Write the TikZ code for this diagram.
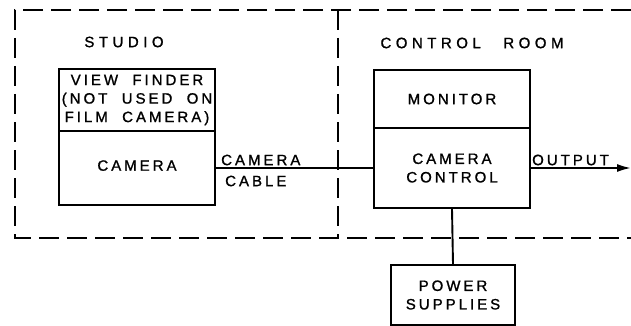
\documentclass[tikz,border=0pt]{standalone}
\usepackage{fontspec}
\setmainfont{Liberation Sans}
\newfontfamily\lblfont{Liberation Sans}[LetterSpace=20,WordSpace=2,FakeBold=1.2]
\newfontfamily\ttlfont{Liberation Sans}[LetterSpace=30,WordSpace=2.6,FakeBold=1.2]
\usetikzlibrary{arrows.meta}
\begin{document}
\begin{tikzpicture}[x=1pt,y=-1pt,
  blk/.style={draw,line width=1.9pt,inner sep=0pt,align=center,
    font=\lblfont\fontsize{15}{18.5}\selectfont},
  lbl/.style={inner sep=0pt,font=\lblfont\fontsize{15}{18}\selectfont},
  ttl/.style={inner sep=0pt,font=\ttlfont\fontsize{15}{18}\selectfont},
  wire/.style={line width=1.9pt},
  roomline/.style={line width=1.7pt,dash pattern=on 20pt off 8pt}]
\useasboundingbox (0,0) rectangle (631,326);
% rooms
\coordinate (tl) at (15,10);
\coordinate (tr) at (631,10);
\coordinate (bl) at (15,238);
\coordinate (br) at (631,238);
\coordinate (mt) at (338,10);
\coordinate (mb) at (338,238);
\draw[roomline] (tr) -- (tl) -- (bl) -- (br);
\draw[roomline] (mt) -- (mb);
\node[ttl] (studio) at (124,42) {STUDIO};
\node[ttl] (croom) at (472,43) {CONTROL ROOM};
% studio
\node[blk,minimum width=156pt,minimum height=62pt] (vf) at (137,100)
  {VIEW FINDER\\(NOT USED ON\\FILM CAMERA)};
\node[blk,minimum width=156pt,minimum height=74pt] (cam) at (137,168) {\raisebox{5pt}{CAMERA}};
% control room
\node[blk,minimum width=156pt,minimum height=58pt] (mon) at (452,99) {MONITOR};
\node[blk,minimum width=156pt,minimum height=80pt] (cc) at (452,168) {CAMERA\\CONTROL};
\node[blk,minimum width=124pt,minimum height=60pt] (ps) at (453,295) {POWER\\SUPPLIES};
% connectors
\draw[wire] (cam.east) -- (cc.west);
\node[lbl,anchor=west] (cl1) at (221,160) {CAMERA};
\node[lbl,anchor=west] (cl2) at (225,181) {CABLE};
\coordinate (out) at (631,168);
\draw[wire,-{Latex[length=14pt,width=8pt]}] (cc.east) -- (out);
\node[lbl,anchor=west] (outl) at (532,160) {OUTPUT};
\draw[wire] (cc.south) -- (ps.north);
\end{tikzpicture}
\end{document}
